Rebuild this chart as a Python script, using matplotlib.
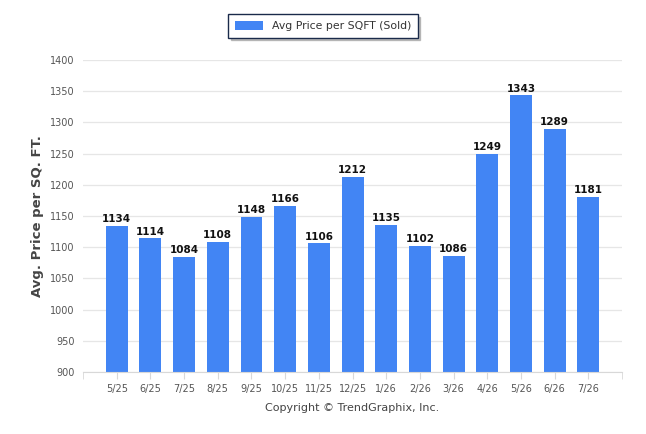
import matplotlib.pyplot as plt
import numpy as np

months = ["5/25", "6/25", "7/25", "8/25", "9/25", "10/25", "11/25", "12/25",
          "1/26", "2/26", "3/26", "4/26", "5/26", "6/26", "7/26"]
avg_price = [1134, 1114, 1084, 1108, 1148, 1166, 1106, 1212,
             1135, 1102, 1086, 1249, 1343, 1289, 1181]
yticks = [900, 950, 1000, 1050, 1100, 1150, 1200, 1250, 1300, 1350, 1400]

plt.rcParams['font.family'] = 'DejaVu Sans'

fig = plt.figure(figsize=(6.46, 4.34), dpi=100)
ax = fig.add_axes([0.1285, 0.143, 0.8345, 0.719])

x = np.arange(1, len(months) + 1)
bars = ax.bar(x, np.array(avg_price) - 900, bottom=900, width=0.65,
              color='#4285f4', zorder=2, label='Avg Price per SQFT (Sold)')

for xi, v in zip(x, avg_price):
    ax.text(xi, v + 3, str(v), ha='center', va='bottom', fontsize=7.5,
            fontweight='bold', color='#111111', zorder=3)

ax.set_xlim(0, 16)
ax.set_ylim(900, 1400)
ax.set_yticks(yticks)
ax.set_yticklabels([str(t) for t in yticks])
ax.set_xticks(list(x))
ax.set_xticklabels(months)
ax.set_xticks([0, 16], minor=True)

ax.grid(axis='y', color='#e6e6e6', lw=0.9, zorder=0)
for s in ['top', 'right', 'left']:
    ax.spines[s].set_visible(False)
ax.spines['bottom'].set_color('#d8d8d8')
ax.tick_params(axis='y', length=0, labelsize=7, labelcolor='#555555', pad=6)
ax.tick_params(axis='x', which='both', length=5, color='#d8d8d8',
               labelsize=7, labelcolor='#555555', pad=4)

ax.set_ylabel('Avg. Price per SQ. FT.', fontsize=9.5, fontweight='bold',
              color='#444444', labelpad=4)

leg = fig.legend(handles=[bars], loc='center', bbox_to_anchor=(0.5, 0.94),
                 fontsize=7.8, frameon=True, fancybox=False,
                 shadow={'color': '#999999', 'alpha': 0.6},
                 handlelength=2.6, handleheight=0.9, borderpad=0.6)
leg.get_frame().set_edgecolor('#1a2a4a')
leg.get_frame().set_linewidth(1.0)
for t in leg.get_texts():
    t.set_color('#333333')

fig.text(0.545, 0.06, 'Copyright \u00a9 TrendGraphix, Inc.', ha='center',
         va='center', fontsize=8, color='#444444')

fig.savefig('out.png', dpi=100)
